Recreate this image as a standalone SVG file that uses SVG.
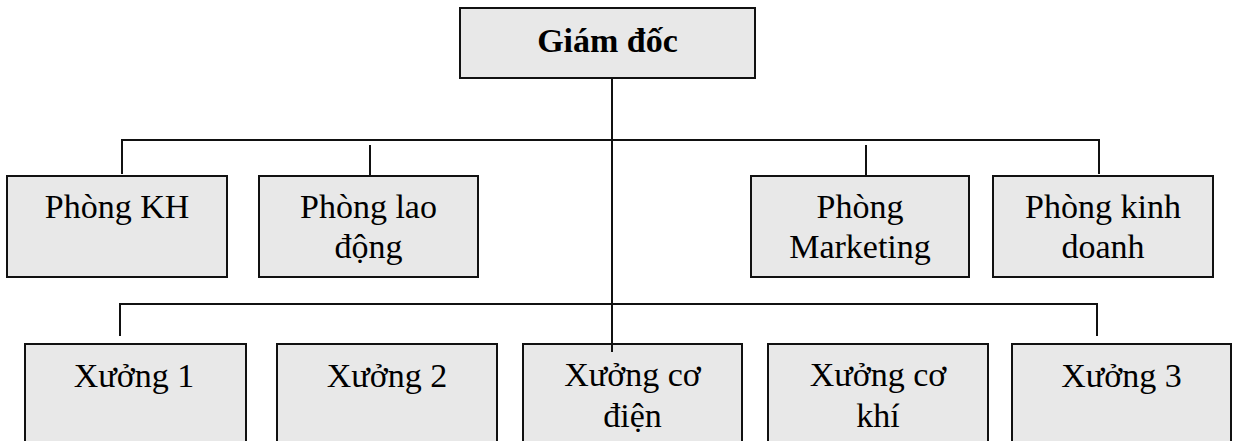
<svg xmlns="http://www.w3.org/2000/svg" width="1233" height="441" viewBox="0 0 1233 441">
  <style>
    .box { fill: #e8e8e8; stroke: #111; stroke-width: 2; }
    .wire { fill: none; stroke: #111; stroke-width: 2; }
    text { font-family: "Liberation Serif", "Times New Roman", serif; font-size: 34px; fill: #000; text-anchor: middle; }
    .title { font-weight: bold; }
  </style>
  <rect width="1233" height="441" fill="#fff"/>

  <!-- connectors -->
  <g id="connectors">
    <!-- main trunk from the director down to the workshop row -->
    <line class="wire" x1="612" y1="78" x2="612" y2="352"/>
    <!-- department bus -->
    <path class="wire" d="M122 174 V140 H1099 V174"/>
    <line class="wire" x1="370" y1="145" x2="370" y2="176"/>
    <line class="wire" x1="866" y1="145" x2="866" y2="176"/>
    <!-- workshop bus -->
    <path class="wire" d="M120 336 V304 H1097 V336"/>
  </g>

  <g id="giam-doc">
    <rect class="box" x="460" y="8" width="295" height="70"/>
    <text class="title" x="607.5" y="52">Giám đốc</text>
  </g>

  <g id="phong-kh">
    <rect class="box" x="7" y="176" width="220" height="101"/>
    <text x="117" y="218">Phòng KH</text>
  </g>
  <g id="phong-lao-dong">
    <rect class="box" x="259" y="176" width="219" height="101"/>
    <text x="368.5" y="218">Phòng lao</text>
    <text x="368.5" y="258">động</text>
  </g>
  <g id="phong-marketing">
    <rect class="box" x="751" y="176" width="218" height="101"/>
    <text x="860" y="218">Phòng</text>
    <text x="860" y="258">Marketing</text>
  </g>
  <g id="phong-kinh-doanh">
    <rect class="box" x="993" y="176" width="220" height="101"/>
    <text x="1103" y="218">Phòng kinh</text>
    <text x="1103" y="258">doanh</text>
  </g>

  <g id="xuong-1">
    <rect class="box" x="25" y="344" width="221" height="110"/>
    <text x="134" y="387">Xưởng 1</text>
  </g>
  <g id="xuong-2">
    <rect class="box" x="277" y="344" width="220" height="110"/>
    <text x="387" y="387">Xưởng 2</text>
  </g>
  <g id="xuong-co-dien">
    <rect class="box" x="523" y="344" width="219" height="110"/>
    <text x="632.5" y="386">Xưởng cơ</text>
    <text x="632.5" y="427">điện</text>
  </g>
  <g id="xuong-co-khi">
    <rect class="box" x="768" y="344" width="220" height="110"/>
    <text x="878" y="386">Xưởng cơ</text>
    <text x="878" y="427">khí</text>
  </g>
  <g id="xuong-3">
    <rect class="box" x="1012" y="344" width="219" height="110"/>
    <text x="1121.5" y="387">Xưởng 3</text>
  </g>
  <!-- trunk end overlaps the top of the centre workshop -->
  <line class="wire" x1="612" y1="344" x2="612" y2="352"/>
</svg>
